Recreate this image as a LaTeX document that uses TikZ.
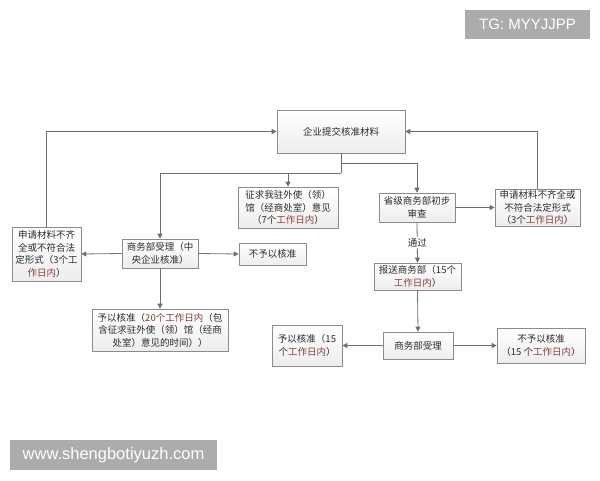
\documentclass[tikz,border=0pt]{standalone}
\usepackage{fontspec}
\newfontfamily\cjk{Noto Sans CJK SC}
\newfontfamily\wmfont{Liberation Sans}
\usetikzlibrary{positioning, arrows.meta, shadows}
\definecolor{linegray}{HTML}{6E6E6E}
\definecolor{textgray}{HTML}{2B2B2B}
\definecolor{dayred}{HTML}{8A3B3B}
\newcommand{\days}[1]{\textcolor{dayred}{#1}}
\tikzset{
x=1pt, y=-1pt, % one unit is one pixel of the reference
box/.style={draw=linegray!80, line width=0.7pt, top color=white, bottom color=gray!14,
  drop shadow={opacity=0.18, shadow xshift=1.2pt, shadow yshift=-1.2pt},
  font=\cjk\fontsize{9.5}{12.4}\selectfont, text=textgray, align=center, inner sep=1pt}, % every box
flow/.style={draw=linegray, line width=0.8pt, -{Triangle[width=5pt,length=5pt]}}, % arrows
wire/.style={draw=linegray, line width=0.8pt}, % plain connector
stamp/.style={fill=gray!65, text=white, font=\wmfont\fontsize{15}{15}\selectfont, inner sep=0pt}, % watermark
}
\begin{document}
\begin{tikzpicture}
\useasboundingbox (0,0) rectangle (600,480);
% boxes
\node[box, minimum width=128, minimum height=43] (submit) at (341,131.5) {企业提交核准材料};
\node[box, minimum width=100, minimum height=41] (consult) at (288,207.5) {征求我驻外使（领）\\馆（经商处室）意见\\（7个\days{工作日内}）};
\node[box, minimum width=76, minimum height=29] (central) at (160,253.5) {商务部受理（中\\央企业核准）};
\node[box, minimum width=69, minimum height=54] (leftrej) at (46.5,254) {申请材料不齐\\全或不符合法\\定形式（3个工\\\days{作日内}）};
\node[box, minimum width=67, minimum height=22] (refuse1) at (272.5,254) {不予以核准};
\node[box, minimum width=136, minimum height=42] (approve1) at (160,330) {予以核准（\days{20个工作日内}（包\\含征求驻外使（领）馆（经商\\处室）意见的时间））};
\node[box, minimum width=76, minimum height=29] (province) at (417,207.5) {省级商务部初步\\审查};
\node[box, minimum width=85, minimum height=37] (rightrej) at (537.5,207.5) {申请材料不齐全或\\不符合法定形式\\（3个\days{工作日内}）};
\node[box, minimum width=87, minimum height=27] (report) at (417.5,276.5) {报送商务部（15个\\\days{工作日内}）};
\node[box, minimum width=70, minimum height=27] (mofcom) at (418,345.5) {商务部受理};
\node[box, minimum width=70, minimum height=41] (approve2) at (307,345.5) {予以核准（15\\个\days{工作日内}）};
\node[box, minimum width=88, minimum height=35] (refuse2) at (541,345.5) {不予以核准\\（15 个\days{工作日内}）};
% connectors
\coordinate (split) at (341,173);
\coordinate (branch) at (341,163);
\draw[wire] (submit.south) -- (split);
\draw[flow] (split) -| (central.north);
\draw[flow] (consult.north |- split) -- (consult.north);
\draw[flow] (branch) -| (province.north);
\draw[flow] (central.west) -- (leftrej.east);
\draw[flow] (leftrej.north) |- (submit.west);
\draw[flow] (central.east) -- (refuse1.west);
\draw[flow] (central.south) -- (approve1.north);
\draw[flow] (province.east) -- (rightrej.west);
\draw[flow] (rightrej.north) |- (submit.east);
\draw[flow] (province.south) -- node[fill=white, inner sep=1pt, font=\cjk\fontsize{9.5}{11}\selectfont, text=textgray] {通过} (report.north);
\draw[flow] (report.south) -- (mofcom.north);
\draw[flow] (mofcom.west) -- (approve2.east);
\draw[flow] (mofcom.east) -- (refuse2.west);
% watermarks
\node[stamp, minimum width=125, minimum height=29] (tg) at (527.5,24.5) {TG: MYYJJPP};
\node[stamp, minimum width=207, minimum height=30, font=\wmfont\fontsize{16.5}{16.5}\selectfont] (site) at (113.5,455) {www.shengbotiyuzh.com};
\end{tikzpicture}
\end{document}
